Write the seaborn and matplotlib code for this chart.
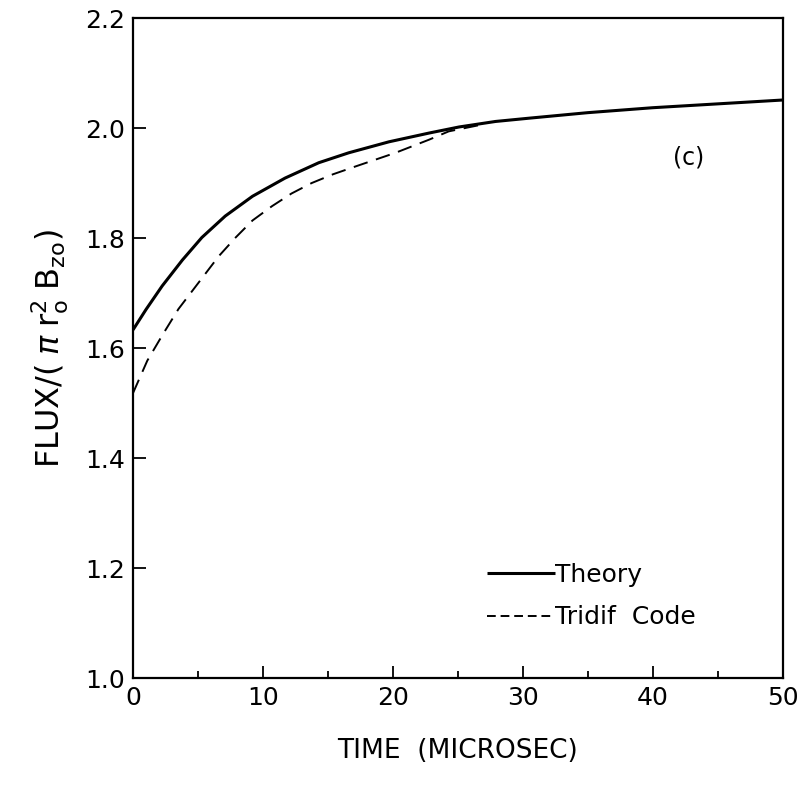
# Flux vs time: theory vs Tridif code (panel c)
import matplotlib
matplotlib.use('Agg')
import matplotlib.pyplot as plt
import pandas as pd
import seaborn as sns

# Data
theory_t = [0, 1.0, 2.25, 3.8, 5.3, 7.1, 9.2, 11.7, 14.3, 16.6, 19.7, 22.8, 25.1, 27.9,
            30.5, 35, 40, 45, 50]
theory_flux = [1.633, 1.670, 1.713, 1.760, 1.801, 1.840, 1.876, 1.909, 1.937, 1.955, 1.975,
               1.991, 2.002, 2.012, 2.018, 2.028, 2.037, 2.044, 2.051]
tridif_t = [0, 1.1, 2.3, 3.5, 5.05, 6.6, 7.9, 9.2, 10.7, 12.2, 13.75, 15.4, 17.1, 20.2,
            22.8, 24.3, 27]
tridif_flux = [1.518, 1.577, 1.625, 1.671, 1.719, 1.767, 1.801, 1.832, 1.858, 1.881,
               1.900, 1.916, 1.930, 1.955, 1.979, 1.994, 2.007]

df = pd.concat([
    pd.DataFrame({'t': theory_t, 'flux': theory_flux, 'series': 'Theory'}),
    pd.DataFrame({'t': tridif_t, 'flux': tridif_flux, 'series': 'Tridif  Code'}),
])

sns.set_style('ticks')
plt.rcParams['font.family'] = ['DejaVu Sans']
plt.rcParams['text.color'] = 'black'
plt.rcParams['axes.labelcolor'] = 'black'
plt.rcParams['xtick.color'] = 'black'
plt.rcParams['ytick.color'] = 'black'
plt.rcParams['xtick.direction'] = 'in'
plt.rcParams['ytick.direction'] = 'in'

fig = plt.figure(figsize=(8.06, 7.86), dpi=100)
ax = fig.add_axes([0.165, 0.1374, 0.806, 0.8396])

sns.lineplot(data=df, x='t', y='flux', hue='series', style='series',
             palette=['black', 'black'], dashes=[(1, 0), (7.5, 4.5)],
             size='series', sizes=[2.2, 1.4], ax=ax, sort=False)

ax.set_xlim(0, 50)
ax.set_ylim(1.0, 2.2)
ax.set_xticks([0, 10, 20, 30, 40, 50])
ax.set_xticks([5, 15, 25, 35, 45], minor=True)
ax.set_yticks([1.0, 1.2, 1.4, 1.6, 1.8, 2.0, 2.2])
ax.set_yticklabels(['1.0', '1.2', '1.4', '1.6', '1.8', '2.0', '2.2'])
ax.tick_params(which='major', length=9, width=1.3, labelsize=18, pad=6)
ax.tick_params(which='minor', length=5, width=1.3)
for s in ax.spines.values():
    s.set_linewidth(1.6)
    s.set_color('black')
    s.set_visible(True)

ax.set_xlabel('TIME  (MICROSEC)', fontsize=19, labelpad=20)
ax.set_ylabel(r'FLUX/$(\;\pi\;$r$_{\rm o}^{2}\;$B$_{\rm zo})$', fontsize=23, labelpad=10)

ax.text(42.8, 1.947, '(c)', fontsize=17, ha='center', va='center')

handles, labels = ax.get_legend_handles_labels()
leg = ax.legend(handles, labels, loc='upper left', bbox_to_anchor=(0.53, 0.19),
                frameon=False, fontsize=18, handlelength=2.7, handletextpad=0.0,
                labelspacing=0.75, borderaxespad=0)
for t in leg.get_texts():
    t.set_color('black')
leg.get_lines()[1].set_dashes((4.5, 2.5))

fig.savefig('out.png', dpi=100)
